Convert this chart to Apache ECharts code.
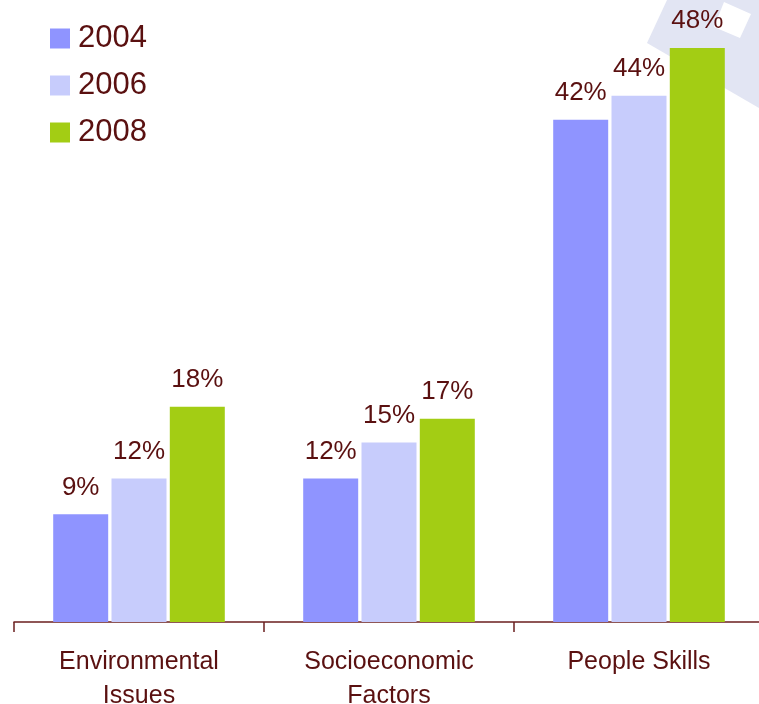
<!DOCTYPE html>
<html>
<head>
<meta charset="utf-8">
<script src="https://cdn.jsdelivr.net/npm/echarts@6/dist/echarts.min.js"></script>
<style>
  html, body { margin: 0; padding: 0; background: #fff; overflow: hidden; }
  #chart { width: 759px; height: 704px; }
</style>
</head>
<body>
<div id="chart"></div>
<script>
// Share of respondents by topic, survey years 2004 / 2006 / 2008
const categories = ['Environmental\nIssues', 'Socioeconomic\nFactors', 'People Skills'];
const years = ['2004', '2006', '2008'];
const values2004 = [9, 12, 42];
const values2006 = [12, 15, 44];
const values2008 = [18, 17, 48];
const yearColors = ['#8f94ff', '#c7ccfc', '#a3cd14'];

const TEXT = '#5a1010';
const FONT = '"Liberation Sans", Arial, Helvetica, sans-serif';

const chart = echarts.init(document.getElementById('chart'), null, { renderer: 'canvas', width: 759, height: 704 });

function barSeries(name, data, color) {
  return {
    name: name,
    type: 'bar',
    data: data,
    barWidth: 55,
    barGap: '6%',
    itemStyle: { color: color },
    label: {
      show: true,
      position: 'top',
      distance: 14,
      formatter: '{c}%',
      color: TEXT,
      fontFamily: FONT,
      fontSize: 26
    },
    z: 5
  };
}

chart.setOption({
  backgroundColor: '#ffffff',
  animation: false,
  graphic: [
    {
      // faint decorative tile in the upper right corner
      type: 'polygon',
      z: -10,
      silent: true,
      shape: { points: [[667, 0], [647, 43], [759, 108], [759, 0]] },
      style: { fill: '#e2e5f3' }
    },
    {
      type: 'polygon',
      z: -9,
      silent: true,
      shape: { points: [[724, 2], [751, 14], [740, 38], [714, 27]] },
      style: { fill: '#ffffff' }
    }
  ],
  legend: {
    orient: 'vertical',
    left: 45,
    top: 18,
    itemWidth: 20,
    itemHeight: 20,
    itemGap: 16,
    icon: 'rect',
    data: years,
    textStyle: {
      color: TEXT,
      fontFamily: FONT,
      fontSize: 31,
      padding: [0, 0, 0, 3]
    }
  },
  grid: {
    left: 14,
    width: 750,
    top: 24,
    height: 598,
    containLabel: false,
    outerBoundsMode: 'none'
  },
  xAxis: {
    type: 'category',
    data: categories,
    axisLine: { show: true, lineStyle: { color: '#6b1f1f', width: 1.5 } },
    axisTick: { show: true, length: 10, lineStyle: { color: '#6b1f1f', width: 1.5 } },
    axisLabel: {
      color: TEXT,
      fontFamily: FONT,
      fontSize: 25,
      lineHeight: 34,
      margin: 23,
      interval: 0
    }
  },
  yAxis: {
    type: 'value',
    min: 0,
    max: 50,
    show: false,
    splitLine: { show: false }
  },
  series: [
    barSeries(years[0], values2004, yearColors[0]),
    barSeries(years[1], values2006, yearColors[1]),
    barSeries(years[2], values2008, yearColors[2])
  ]
});
</script>
</body>
</html>
